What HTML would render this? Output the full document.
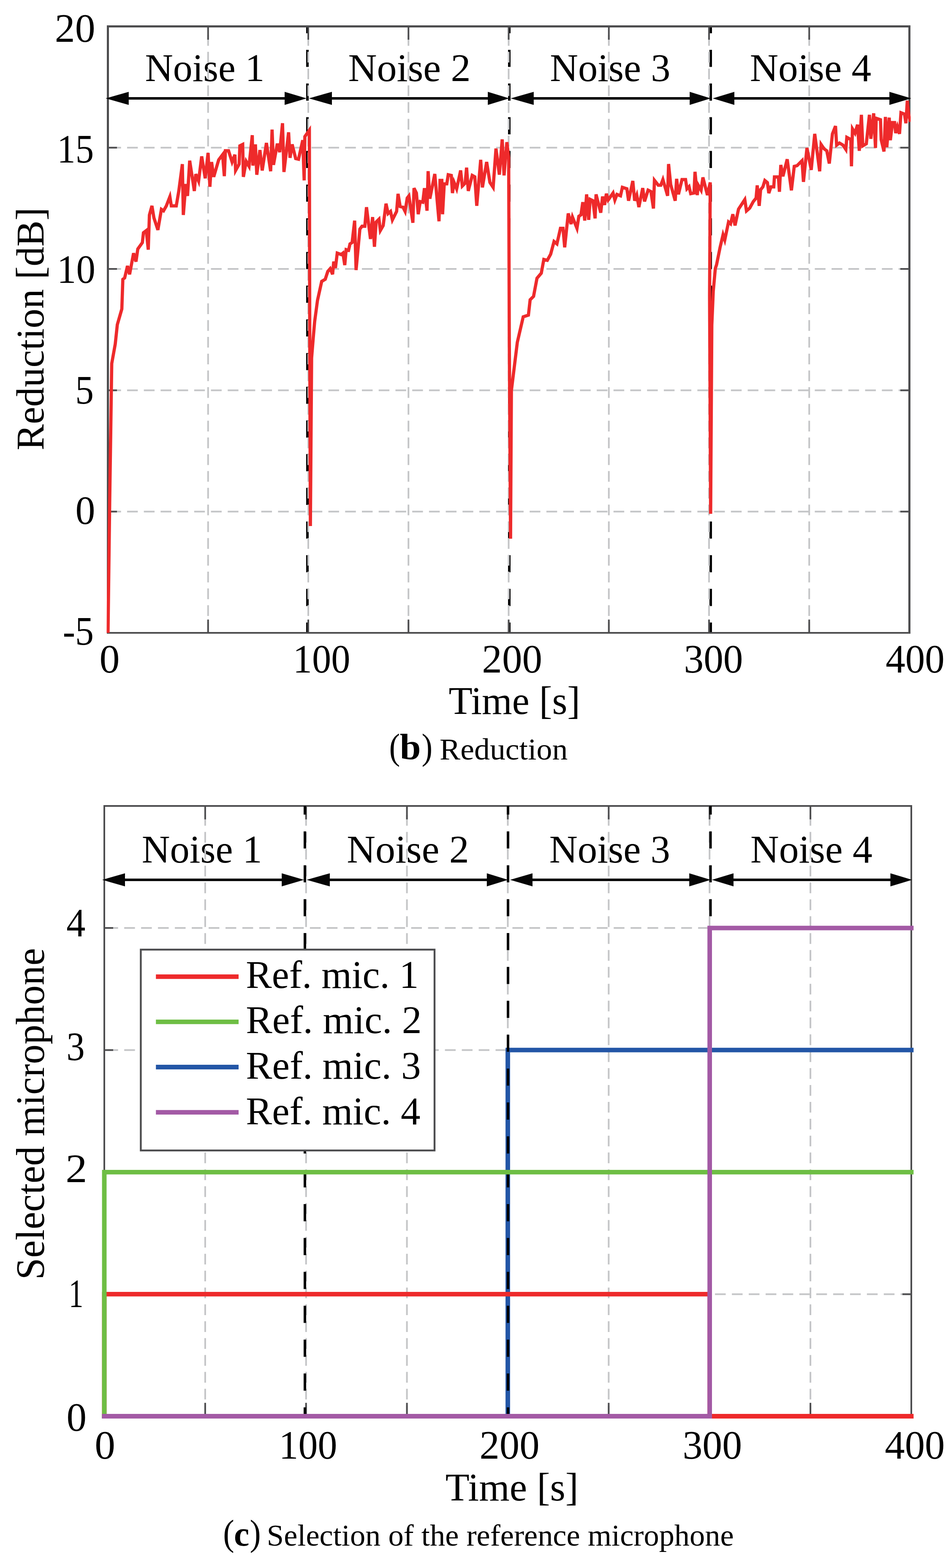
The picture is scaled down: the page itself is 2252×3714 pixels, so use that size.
<!DOCTYPE html>
<html><head><meta charset="utf-8"><title>Figure</title><style>html,body{margin:0;padding:0;background:#fff;}svg{display:block;}</style></head><body>
<svg xmlns="http://www.w3.org/2000/svg" width="2252" height="3714" viewBox="0 0 2252 3714" font-family="'Liberation Serif', 'Times New Roman', serif" fill="#000">
<rect x="0" y="0" width="2252" height="3714" fill="#fff"/>
<defs><clipPath id="c1"><rect x="252.5" y="59.5" width="1904.0" height="1442.5"/></clipPath><clipPath id="c2"><rect x="244" y="1906" width="1918" height="1452"/></clipPath></defs>
<line x1="728.0" y1="62.5" x2="728.0" y2="1499.0" stroke="#000" stroke-width="6" stroke-dasharray="40.6 39.2" stroke-dashoffset="24.3"/>
<line x1="1206.0" y1="62.5" x2="1206.0" y2="1499.0" stroke="#000" stroke-width="6" stroke-dasharray="40.6 39.2" stroke-dashoffset="24.3"/>
<line x1="1683.0" y1="62.5" x2="1683.0" y2="1499.0" stroke="#000" stroke-width="6" stroke-dasharray="40.6 39.2" stroke-dashoffset="24.3"/>
<text x="343.56" y="192.00" font-size="93" textLength="282.96" lengthAdjust="spacingAndGlyphs">Noise 1</text>
<text x="824.59" y="192.00" font-size="93" textLength="290.10" lengthAdjust="spacingAndGlyphs">Noise 2</text>
<text x="1302.34" y="192.00" font-size="93" textLength="285.08" lengthAdjust="spacingAndGlyphs">Noise 3</text>
<text x="1775.71" y="192.00" font-size="93" textLength="287.54" lengthAdjust="spacingAndGlyphs">Noise 4</text>
<path d="M492.75,62.5V1499.0M730.00,62.5V1499.0M967.25,62.5V1499.0M1204.50,62.5V1499.0M1441.75,62.5V1499.0M1679.00,62.5V1499.0M1916.25,62.5V1499.0" stroke="#c4c5c7" stroke-width="4" fill="none" stroke-dasharray="25.4 14.32" stroke-dashoffset="19.22"/>
<path d="M255.5,1211.70H2153.5M255.5,924.40H2153.5M255.5,637.10H2153.5M255.5,349.80H2153.5" stroke="#c4c5c7" stroke-width="4" fill="none" stroke-dasharray="25.4 14.32" stroke-dashoffset="34.02"/>
<path d="M255.50,1499.0v-31.4M255.50,62.5v31.4M492.75,1499.0v-31.4M492.75,62.5v31.4M730.00,1499.0v-31.4M730.00,62.5v31.4M967.25,1499.0v-31.4M967.25,62.5v31.4M1204.50,1499.0v-31.4M1204.50,62.5v31.4M1441.75,1499.0v-31.4M1441.75,62.5v31.4M1679.00,1499.0v-31.4M1679.00,62.5v31.4M1916.25,1499.0v-31.4M1916.25,62.5v31.4M2153.50,1499.0v-31.4M2153.50,62.5v31.4M255.5,1499.00h21.5M2153.5,1499.00h-21.5M255.5,1211.70h21.5M2153.5,1211.70h-21.5M255.5,924.40h21.5M2153.5,924.40h-21.5M255.5,637.10h21.5M2153.5,637.10h-21.5M255.5,349.80h21.5M2153.5,349.80h-21.5M255.5,62.50h21.5M2153.5,62.50h-21.5" stroke="#4d4d4f" stroke-width="4" fill="none"/>
<path d="M253,62.5H2156" stroke="#4d4d4f" stroke-width="5" fill="none"/>
<path d="M253,1499H2156" stroke="#4d4d4f" stroke-width="4" fill="none"/>
<path d="M255.5,60V1501M2153.5,60V1501" stroke="#4d4d4f" stroke-width="5" fill="none"/>
<line x1="302.8" y1="233.0" x2="676.0" y2="233.0" stroke="#050505" stroke-width="6"/><polygon points="250.2,233.0 304.8,217.5 304.8,248.5" fill="#050505"/><polygon points="726.0,233.0 674.0,217.5 674.0,248.5" fill="#050505"/>
<line x1="784.0" y1="233.0" x2="1157.2" y2="233.0" stroke="#050505" stroke-width="6"/><polygon points="731.4,233.0 786.0,217.5 786.0,248.5" fill="#050505"/><polygon points="1206.0,233.0 1155.2,217.5 1155.2,248.5" fill="#050505"/>
<line x1="1261.9" y1="233.0" x2="1635.2" y2="233.0" stroke="#050505" stroke-width="6"/><polygon points="1209.3,233.0 1263.9,217.5 1263.9,248.5" fill="#050505"/><polygon points="1683.0,233.0 1633.2,217.5 1633.2,248.5" fill="#050505"/>
<line x1="1737.0" y1="233.0" x2="2108.1" y2="233.0" stroke="#050505" stroke-width="6"/><polygon points="1687.8,233.0 1739.0,217.5 1739.0,248.5" fill="#050505"/><polygon points="2158.0,233.0 2106.1,217.5 2106.1,248.5" fill="#050505"/>
<path d="M255.8,1499.0 L259.7,1192.8 L264.6,861.0 L272.9,815.0 L277.8,769.0 L288.5,731.9 L290.9,661.6 L295.2,658.3 L301.9,629.8 L306.9,649.9 L316.3,599.7 L322.0,619.8 L326.3,589.7 L337.1,574.6 L339.7,551.2 L346.4,546.1 L351.1,591.3 L353.8,509.3 L359.8,487.6 L364.5,516.0 L373.9,544.5 L382.2,495.9 L387.3,499.3 L393.9,487.6 L402.3,465.8 L405.7,487.6 L417.4,487.6 L423.4,452.4 L431.8,388.8 L434.1,509.3 L440.1,435.7 L444.1,464.1 L449.2,380.5 L460.2,452.4 L463.6,412.3 L470.3,429.0 L477.6,370.4 L486.0,422.3 L492.7,362.1 L497.0,442.4 L501.0,383.8 L506.1,419.0 L517.8,378.8 L527.1,366.4 L531.2,417.3 L533.8,357.1 L541.2,357.1 L549.6,383.8 L556.3,366.4 L557.9,403.9 L566.3,388.8 L568.0,345.3 L574.7,342.0 L576.3,419.0 L583.0,382.2 L589.7,393.9 L597.4,320.2 L598.8,392.2 L604.8,342.0 L608.1,413.9 L615.5,355.4 L620.9,403.9 L630.9,338.6 L640.9,405.6 L644.3,306.9 L647.6,390.5 L656.7,340.3 L662.4,360.4 L669.0,291.8 L672.4,407.3 L683.4,313.5 L686.8,373.8 L691.8,342.0 L700.2,375.5 L706.9,377.1 L716.9,332.0 L720.3,427.3 L721.9,323.6 L732.6,308.5 L733.5,800.0 L735.0,1246.0 L737.9,848.0 L741.8,800.0 L745.1,761.8 L751.8,711.6 L761.8,666.5 L770.2,661.4 L776.2,643.0 L781.9,636.3 L787.6,649.7 L790.3,619.6 L794.3,634.7 L798.6,599.5 L807.7,602.9 L812.0,599.5 L816.4,628.0 L819.7,591.2 L825.4,592.8 L828.8,577.8 L833.8,574.4 L839.8,522.6 L843.2,639.7 L852.2,542.6 L857.2,535.9 L863.9,535.9 L867.9,490.8 L877.3,566.1 L882.3,514.2 L886.7,584.5 L890.7,525.9 L897.4,519.2 L900.7,546.0 L907.4,534.3 L914.1,482.4 L919.1,505.8 L924.8,500.8 L929.2,520.9 L939.2,500.8 L942.6,459.0 L947.6,489.1 L954.3,490.8 L959.3,500.8 L964.3,469.0 L968.3,464.0 L977.7,527.6 L980.4,445.6 L986.1,457.3 L990.4,507.5 L995.1,477.4 L1001.1,479.0 L1005.1,445.6 L1011.2,499.1 L1013.8,405.4 L1017.9,470.7 L1029.6,412.1 L1039.6,524.2 L1042.0,427.2 L1046.3,427.2 L1048.0,507.5 L1052.0,435.5 L1058.0,435.5 L1061.4,413.8 L1068.7,415.5 L1071.4,457.3 L1075.4,432.2 L1081.4,447.3 L1090.8,403.7 L1094.8,440.6 L1101.5,433.9 L1104.9,397.1 L1108.9,452.3 L1118.3,415.5 L1124.3,418.8 L1129.0,487.4 L1138.3,378.6 L1142.4,443.9 L1152.4,383.7 L1160.1,432.2 L1167.8,443.9 L1174.5,351.9 L1182.5,413.8 L1189.2,330.1 L1193.6,415.5 L1200.3,336.8 L1204.6,373.6 L1206.0,800.0 L1209.0,1276.0 L1211.0,925.0 L1225.0,811.0 L1239.0,750.5 L1251.3,746.4 L1255.4,710.0 L1263.5,701.8 L1271.6,659.0 L1281.8,647.0 L1287.8,614.5 L1296.0,616.6 L1304.0,602.0 L1312.0,572.0 L1318.8,577.6 L1327.2,540.8 L1333.2,540.8 L1337.2,585.9 L1345.6,505.6 L1352.3,530.7 L1355.6,514.0 L1366.3,540.8 L1370.7,512.3 L1375.7,509.0 L1380.1,478.8 L1384.7,522.4 L1389.1,460.4 L1394.1,520.7 L1397.5,472.2 L1404.1,475.5 L1409.2,517.3 L1411.5,460.4 L1422.6,503.9 L1426.9,465.5 L1431.6,485.5 L1435.9,458.8 L1440.3,473.8 L1451.7,457.1 L1456.0,473.8 L1461.0,460.4 L1469.4,463.8 L1473.8,443.7 L1484.5,447.1 L1488.5,475.5 L1498.5,428.6 L1502.9,475.5 L1507.9,462.1 L1512.9,490.6 L1522.0,445.4 L1526.3,477.2 L1534.7,450.4 L1541.4,453.7 L1547.4,493.9 L1549.7,427.0 L1558.8,438.7 L1564.8,438.7 L1569.8,425.3 L1580.9,463.8 L1583.2,388.5 L1588.2,437.0 L1598.9,475.5 L1602.3,423.6 L1606.6,460.4 L1615.0,425.3 L1623.4,425.3 L1626.7,447.1 L1631.7,442.0 L1635.7,458.8 L1643.4,457.1 L1645.8,406.9 L1651.1,462.1 L1653.5,438.7 L1660.2,450.4 L1664.5,420.3 L1675.2,462.1 L1681.9,432.0 L1680.3,700.0 L1682.8,1217.0 L1685.6,770.0 L1689.0,690.0 L1693.9,635.8 L1696.8,627.3 L1705.0,586.7 L1712.2,556.0 L1716.3,568.4 L1725.2,525.8 L1730.0,530.0 L1735.4,507.5 L1740.6,534.0 L1748.8,495.4 L1763.7,472.7 L1767.7,499.5 L1775.4,492.8 L1783.7,477.7 L1790.4,469.3 L1793.1,439.2 L1797.8,487.7 L1801.2,449.3 L1806.5,442.6 L1811.2,427.5 L1817.2,432.5 L1820.6,457.6 L1825.6,442.6 L1832.3,442.6 L1833.9,419.1 L1843.3,419.1 L1845.7,454.3 L1849.0,390.7 L1854.0,417.5 L1864.1,377.3 L1874.1,450.9 L1880.8,394.0 L1887.5,392.4 L1899.2,380.6 L1902.6,430.8 L1910.9,350.5 L1921.0,402.4 L1929.3,317.1 L1941.0,405.7 L1944.4,342.2 L1951.1,352.2 L1957.8,357.2 L1963.8,387.3 L1971.2,317.1 L1978.5,298.6 L1981.2,343.8 L1987.9,338.8 L1996.3,343.8 L2003.0,353.9 L2005.3,325.4 L2014.7,330.4 L2016.3,394.0 L2018.7,305.3 L2024.7,315.4 L2030.7,295.3 L2034.8,357.2 L2039.8,271.9 L2043.1,345.5 L2051.5,340.5 L2058.8,271.9 L2062.2,328.8 L2068.9,268.5 L2073.2,350.5 L2074.9,280.2 L2085.0,283.6 L2086.6,330.4 L2093.3,358.9 L2096.7,276.9 L2100.0,348.8 L2105.7,278.6 L2108.4,332.1 L2113.4,290.3 L2118.4,290.3 L2121.1,315.4 L2125.1,300.3 L2130.1,317.1 L2133.5,266.9 L2141.8,270.2 L2145.2,292.0 L2148.5,238.4 L2151.9,271.9 L2155.9,288.6" stroke="#ee2a2b" stroke-width="7.6" fill="none" stroke-linejoin="miter" stroke-miterlimit="4" clip-path="url(#c1)"/>
<text x="129.89" y="99.00" font-size="95" textLength="95.75" lengthAdjust="spacingAndGlyphs">20</text>
<text x="135.36" y="384.90" font-size="95" textLength="86.94" lengthAdjust="spacingAndGlyphs">15</text>
<text x="135.03" y="669.50" font-size="95" textLength="90.73" lengthAdjust="spacingAndGlyphs">10</text>
<text x="178.32" y="956.00" font-size="95" textLength="43.69" lengthAdjust="spacingAndGlyphs">5</text>
<text x="178.52" y="1240.90" font-size="95" textLength="46.95" lengthAdjust="spacingAndGlyphs">0</text>
<text x="148.73" y="1527.20" font-size="95" textLength="73.30" lengthAdjust="spacingAndGlyphs">-5</text>
<text x="235.64" y="1592.50" font-size="95" textLength="48.01" lengthAdjust="spacingAndGlyphs">0</text>
<text x="693.75" y="1592.50" font-size="95" textLength="135.70" lengthAdjust="spacingAndGlyphs">100</text>
<text x="1141.32" y="1592.50" font-size="95" textLength="142.70" lengthAdjust="spacingAndGlyphs">200</text>
<text x="1619.43" y="1592.50" font-size="95" textLength="140.13" lengthAdjust="spacingAndGlyphs">300</text>
<text x="2097.18" y="1592.50" font-size="95" textLength="139.66" lengthAdjust="spacingAndGlyphs">400</text>
<text x="1062.45" y="1691.10" font-size="93" textLength="311.52" lengthAdjust="spacingAndGlyphs">Time [s]</text>
<text transform="translate(102.80,1064.00) rotate(-90)" x="-2.68" y="0" font-size="93" textLength="575.27" lengthAdjust="spacingAndGlyphs">Reduction [dB]</text>
<text x="921.60" y="1797.50" font-size="86" textLength="25.80" lengthAdjust="spacingAndGlyphs">(</text>
<text x="946.76" y="1798.10" font-size="87" font-weight="bold" textLength="49.76" lengthAdjust="spacingAndGlyphs">b</text>
<text x="998.62" y="1797.50" font-size="86" textLength="25.67" lengthAdjust="spacingAndGlyphs">)</text>
<text x="1041.07" y="1798.80" font-size="71" textLength="303.34" lengthAdjust="spacingAndGlyphs">Reduction</text>
<text x="335.84" y="2043.40" font-size="93" textLength="285.02" lengthAdjust="spacingAndGlyphs">Noise 1</text>
<text x="821.29" y="2043.40" font-size="93" textLength="289.49" lengthAdjust="spacingAndGlyphs">Noise 2</text>
<text x="1300.83" y="2043.40" font-size="93" textLength="286.20" lengthAdjust="spacingAndGlyphs">Noise 3</text>
<text x="1777.10" y="2043.40" font-size="93" textLength="288.76" lengthAdjust="spacingAndGlyphs">Noise 4</text>
<path d="M485.88,1909.0V3354.5M724.75,1909.0V3354.5M963.62,1909.0V3354.5M1202.50,1909.0V3354.5M1441.38,1909.0V3354.5M1680.25,1909.0V3354.5M1919.12,1909.0V3354.5" stroke="#c4c5c7" stroke-width="4" fill="none" stroke-dasharray="25.4 14.57" stroke-dashoffset="18.5"/>
<path d="M247.0,3065.40H2158.0M247.0,2776.30H2158.0M247.0,2487.20H2158.0M247.0,2198.10H2158.0" stroke="#c4c5c7" stroke-width="4" fill="none" stroke-dasharray="25.4 14.57" stroke-dashoffset="32.77"/>
<path d="M247.00,3354.5v-31.8M247.00,1909.0v31.8M485.88,3354.5v-31.8M485.88,1909.0v31.8M724.75,3354.5v-31.8M724.75,1909.0v31.8M963.62,3354.5v-31.8M963.62,1909.0v31.8M1202.50,3354.5v-31.8M1202.50,1909.0v31.8M1441.38,3354.5v-31.8M1441.38,1909.0v31.8M1680.25,3354.5v-31.8M1680.25,1909.0v31.8M1919.12,3354.5v-31.8M1919.12,1909.0v31.8M2158.00,3354.5v-31.8M2158.00,1909.0v31.8M247.0,3354.50h21M2158.0,3354.50h-21M247.0,3065.40h21M2158.0,3065.40h-21M247.0,2776.30h21M2158.0,2776.30h-21M247.0,2487.20h21M2158.0,2487.20h-21M247.0,2198.10h21M2158.0,2198.10h-21" stroke="#4d4d4f" stroke-width="4" fill="none"/>
<rect x="247.0" y="1909.0" width="1911.0" height="1445.5" fill="none" stroke="#4d4d4f" stroke-width="4"/>
<path d="M247.00,3354.50 L1202.50,3354.50 L1202.50,2487.20 L2158.00,2487.20" stroke="#2356a6" stroke-width="10.8" fill="none" stroke-linejoin="miter" stroke-linecap="square"/>
<line x1="722.0" y1="1909.0" x2="722.0" y2="3354.5" stroke="#000" stroke-width="6" stroke-dasharray="40.6 39.66" stroke-dashoffset="20.06"/>
<line x1="1203.0" y1="1909.0" x2="1203.0" y2="3354.5" stroke="#000" stroke-width="6" stroke-dasharray="40.6 39.66" stroke-dashoffset="20.06"/>
<line x1="1682.5" y1="1909.0" x2="1682.5" y2="3354.5" stroke="#000" stroke-width="6" stroke-dasharray="40.6 39.66" stroke-dashoffset="20.06"/>
<path d="M247.00,3354.50 L247.00,3065.40 L1680.60,3065.40 L1680.60,3354.50 L2158.00,3354.50" stroke="#ee2a2b" stroke-width="10.8" fill="none" stroke-linejoin="miter" stroke-linecap="square"/>
<path d="M247.00,3354.50 L247.00,2776.30 L2158.00,2776.30" stroke="#6ebe44" stroke-width="10.8" fill="none" stroke-linejoin="miter" stroke-linecap="square"/>
<path d="M247.00,3354.50 L1680.60,3354.50 L1680.60,2198.10 L2158.00,2198.10" stroke="#a35aa5" stroke-width="10.8" fill="none" stroke-linejoin="miter" stroke-linecap="square"/>
<line x1="294.0" y1="2084.0" x2="669.1" y2="2084.0" stroke="#050505" stroke-width="6"/><polygon points="242.0,2084.0 296.0,2068.5 296.0,2099.5" fill="#050505"/><polygon points="720.0,2084.0 667.1,2068.5 667.1,2099.5" fill="#050505"/>
<line x1="779.0" y1="2084.0" x2="1154.8" y2="2084.0" stroke="#050505" stroke-width="6"/><polygon points="726.1,2084.0 781.0,2068.5 781.0,2099.5" fill="#050505"/><polygon points="1203.0,2084.0 1152.8,2068.5 1152.8,2099.5" fill="#050505"/>
<line x1="1259.0" y1="2084.0" x2="1634.2" y2="2084.0" stroke="#050505" stroke-width="6"/><polygon points="1207.8,2084.0 1261.0,2068.5 1261.0,2099.5" fill="#050505"/><polygon points="1683.0,2084.0 1632.2,2068.5 1632.2,2099.5" fill="#050505"/>
<line x1="1735.0" y1="2084.0" x2="2110.5" y2="2084.0" stroke="#050505" stroke-width="6"/><polygon points="1685.7,2084.0 1737.0,2068.5 1737.0,2099.5" fill="#050505"/><polygon points="2160.0,2084.0 2108.5,2068.5 2108.5,2099.5" fill="#050505"/>
<rect x="333.4" y="2249.3" width="695.6" height="475.7" fill="#fff" stroke="#4d4d4f" stroke-width="4.4"/>
<line x1="369.2" y1="2313.3" x2="565" y2="2313.3" stroke="#ee2a2b" stroke-width="10.8"/>
<line x1="369.2" y1="2420.4" x2="565" y2="2420.4" stroke="#6ebe44" stroke-width="10.8"/>
<line x1="369.2" y1="2527.5" x2="565" y2="2527.5" stroke="#2356a6" stroke-width="10.8"/>
<line x1="369.2" y1="2634.6" x2="565" y2="2634.6" stroke="#a35aa5" stroke-width="10.8"/>
<text x="582.35" y="2339.80" font-size="93" textLength="409.18" lengthAdjust="spacingAndGlyphs">Ref. mic. 1</text>
<text x="582.30" y="2447.40" font-size="93" textLength="416.37" lengthAdjust="spacingAndGlyphs">Ref. mic. 2</text>
<text x="582.31" y="2555.00" font-size="93" textLength="414.33" lengthAdjust="spacingAndGlyphs">Ref. mic. 3</text>
<text x="582.32" y="2662.60" font-size="93" textLength="413.13" lengthAdjust="spacingAndGlyphs">Ref. mic. 4</text>
<text x="157.34" y="2218.00" font-size="95" textLength="45.07" lengthAdjust="spacingAndGlyphs">4</text>
<text x="157.48" y="2510.60" font-size="95" textLength="43.09" lengthAdjust="spacingAndGlyphs">3</text>
<text x="155.29" y="2799.70" font-size="95" textLength="51.26" lengthAdjust="spacingAndGlyphs">2</text>
<text x="162.81" y="3096.10" font-size="95" textLength="34.65" lengthAdjust="spacingAndGlyphs">1</text>
<text x="157.48" y="3388.80" font-size="95" textLength="47.54" lengthAdjust="spacingAndGlyphs">0</text>
<text x="224.39" y="3455.00" font-size="95" textLength="48.72" lengthAdjust="spacingAndGlyphs">0</text>
<text x="660.51" y="3455.00" font-size="95" textLength="138.10" lengthAdjust="spacingAndGlyphs">100</text>
<text x="1135.43" y="3455.00" font-size="95" textLength="142.28" lengthAdjust="spacingAndGlyphs">200</text>
<text x="1616.41" y="3455.00" font-size="95" textLength="140.76" lengthAdjust="spacingAndGlyphs">300</text>
<text x="2095.35" y="3455.00" font-size="95" textLength="142.16" lengthAdjust="spacingAndGlyphs">400</text>
<text x="1054.73" y="3553.90" font-size="93" textLength="315.01" lengthAdjust="spacingAndGlyphs">Time [s]</text>
<text transform="translate(104.00,3024.90) rotate(-90)" x="-6.25" y="0" font-size="95" textLength="785.48" lengthAdjust="spacingAndGlyphs">Selected microphone</text>
<text x="528.21" y="3660.30" font-size="86" textLength="26.45" lengthAdjust="spacingAndGlyphs">(</text>
<text x="553.90" y="3661.20" font-size="83.5" font-weight="bold" textLength="36.34" lengthAdjust="spacingAndGlyphs">c</text>
<text x="591.47" y="3660.30" font-size="86" textLength="26.19" lengthAdjust="spacingAndGlyphs">)</text>
<text x="631.86" y="3661.30" font-size="71.5" textLength="1105.75" lengthAdjust="spacingAndGlyphs">Selection of the reference microphone</text>
</svg>
</body></html>
